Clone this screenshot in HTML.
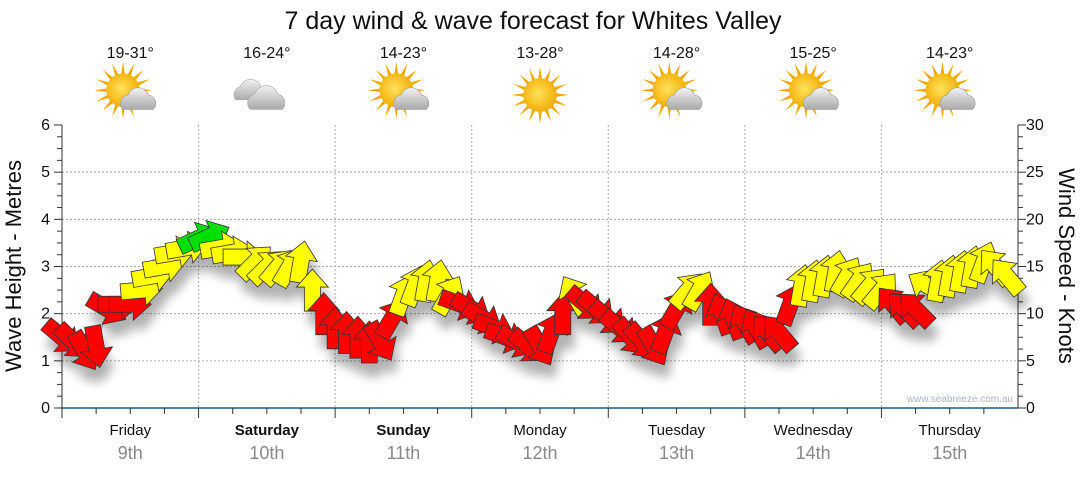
<!DOCTYPE html>
<html><head><meta charset="utf-8"><style>
body{margin:0;background:#fff;}
svg text{font-family:"Liberation Sans","DejaVu Sans",sans-serif;}
</style></head><body>
<svg id="c" width="1080" height="475" viewBox="0 0 1080 475">
<defs>
<radialGradient id="sun" cx="0.45" cy="0.45" r="0.6"><stop offset="0" stop-color="#ffe25a"/><stop offset="1" stop-color="#f2a900"/></radialGradient>
<linearGradient id="cloud" x1="0" y1="0" x2="0" y2="1"><stop offset="0" stop-color="#f2f2f2"/><stop offset="1" stop-color="#a9a9a9"/></linearGradient>
<filter id="sh" x="-50%" y="-50%" width="200%" height="200%"><feGaussianBlur stdDeviation="5"/></filter>
</defs>
<text x="533" y="29" font-size="25" text-anchor="middle" fill="#111">7 day wind &amp; wave forecast for Whites Valley</text>
<g id="grid"></g><g id="axes"></g><g id="shadows" filter="url(#sh)" opacity="0.3"></g><g id="marks"></g><g id="top"></g>
<text x="1013" y="402" font-size="10" text-anchor="end" fill="#aab4c4">www.seabreeze.com.au</text>
<text transform="translate(21,266) rotate(-90)" font-size="22" text-anchor="middle" fill="#111">Wave Height - Metres</text>
<text transform="translate(1059,266) rotate(90)" font-size="22" text-anchor="middle" fill="#111">Wind Speed - Knots</text>
</svg>
<script>
const days=["Friday","Saturday","Sunday","Monday","Tuesday","Wednesday","Thursday"];
const dates=["9th","10th","11th","12th","13th","14th","15th"];
const bold=[false,true,true,false,false,false,false];
const temps=["19-31°","16-24°","14-23°","13-28°","14-28°","15-25°","14-23°"];
const icons=["partly","cloudy","partly","sun","partly","partly","partly"];
const waveTicks=[0,1,2,3,4,5,6];
const windTicks=[0,5,10,15,20,25,30];
// wind every 2 hours, starting Friday 00:00
const windSpeed=[7.5,7,6,6.5,10.5,11,11,12.5,14,15,16.5,17,
18,18.2,17,16.5,16,15.5,15,15,15,15.5,12.5,10,
8.5,8,7.5,7,7,9.5,12,13,13.5,13.5,12,11,
10.5,9.5,8.5,7.5,7,6.5,6.5,8,10,12,11,10.5,
9.5,8.5,7.5,7,6.5,8,10.5,12.5,12.5,11,10,9.5,
9,8.5,8,8,11,13,13.5,14,14.5,14,13.5,13,
12.5,11,10.5,10.5,13,13.5,14,14.5,15,15.5,15,14];
const windDir=[130,135,150,170,120,90,90,85,80,80,80,80,
65,65,80,80,90,45,45,40,30,10,0,0,
0,0,0,0,150,30,20,20,10,10,30,110,
120,120,110,110,120,130,150,20,0,330,130,130,
130,130,140,140,150,20,30,40,30,0,340,340,
330,330,320,320,20,10,10,10,10,30,35,40,
40,320,315,315,300,10,10,10,10,20,320,320];

const NS="http://www.w3.org/2000/svg";
const L=62,R=1018,T=125,B=408;
const dayW=(R-L)/7;
const xT=h=>L+h/24*dayW;
const yW=m=>B-(B-T)*m/6;
const yK=k=>B-(B-T)*k/30;
function el(tag,attrs,parent){const e=document.createElementNS(NS,tag);for(const k in attrs)e.setAttribute(k,attrs[k]);parent.appendChild(e);return e;}
const grid=document.getElementById('grid'),axes=document.getElementById('axes'),marks=document.getElementById('marks'),shadows=document.getElementById('shadows'),top_=document.getElementById('top');

waveTicks.forEach(v=>{
  if(v>0&&v<6){const g=el('line',{x1:L,x2:R,y1:yW(v),y2:yW(v),stroke:'#aaa','stroke-dasharray':'2,2'},grid);
  
  }
  const t=el('text',{x:L-12,y:yW(v)+5,'font-size':16,'text-anchor':'end',fill:'#111'},axes);t.textContent=v;
  
  
});
windTicks.forEach(v=>{
  const t=el('text',{x:R+8,y:yK(v)+5,'font-size':16,fill:'#111'},axes);t.textContent=v;
  
  
});
for(let i=0;i<=24;i++){const y=B-(B-T)*i/24;const len=i%4==0?8:5;
  el('line',{x1:L-len,x2:L,y1:y,y2:y,stroke:'#333'},axes);
  el('line',{x1:R,x2:R+(i%4==0?8:5),y1:y,y2:y,stroke:'#333'},axes);}
el('line',{x1:L,x2:L,y1:T,y2:B,stroke:'#333'},axes);
el('line',{x1:R,x2:R,y1:T,y2:B,stroke:'#333'},axes);
el('line',{x1:L,x2:R,y1:B,y2:B,stroke:'#1f5a85','stroke-width':1.5},axes);
for(let d=0;d<7;d++){
  if(d>0){const g=el('line',{x1:xT(d*24),x2:xT(d*24),y1:T,y2:B,stroke:'#aaa','stroke-dasharray':'2,2'},grid);
  
  }
  for(let q=0;q<4;q++){const x=xT(d*24+q*6);el('line',{x1:x,x2:x,y1:B,y2:B+(q==0?10:6),stroke:'#333'},axes);}
  const cx=xT(d*24+12);
  const t=el('text',{x:cx,y:435,'font-size':15,'text-anchor':'middle',fill:'#111','font-weight':bold[d]?'bold':'normal'},axes);t.textContent=days[d];
  
  
  const t2=el('text',{x:cx,y:459,'font-size':18,'text-anchor':'middle',fill:'#888'},axes);t2.textContent=dates[d];
  
  
  const t3=el('text',{x:cx,y:58,'font-size':16,'text-anchor':'middle',fill:'#111'},top_);t3.textContent=temps[d];
  
  
  const g=el('g',{transform:`translate(${cx},95) scale(1.2)`},top_);
  
  
  const ic=icons[d];
  if(ic!='cloudy'){
    for(let a=0;a<16;a++){const an=a*Math.PI/8;const sx=ic=='sun'?0:-6,sy=ic=='sun'?0:-4;
      el('polygon',{points:`${sx+Math.cos(an-0.12)*13},${sy+Math.sin(an-0.12)*13} ${sx+Math.cos(an)*24},${sy+Math.sin(an)*24} ${sx+Math.cos(an+0.12)*13},${sy+Math.sin(an+0.12)*13}`,fill:'#f5a800'},g);}
    el('circle',{cx:ic=='sun'?0:-6,cy:ic=='sun'?0:-4,r:14,fill:'url(#sun)'},g);
  }
  if(ic=='partly'){
    el('path',{d:'M-6,12 a7,7 0 0 1 4,-12 a9,9 0 0 1 17,0 a7,7 0 0 1 4,12 z',fill:'url(#cloud)',stroke:'#999','stroke-width':0.5},g);
  }
  if(ic=='cloudy'){
    el('path',{d:'M-26,4 a7,7 0 0 1 4,-11 a9,9 0 0 1 17,0 a7,7 0 0 1 2,11 z',fill:'url(#cloud)',stroke:'#aaa','stroke-width':0.5},g);
    el('path',{d:'M-14,12 a8,8 0 0 1 4,-13 a10,10 0 0 1 19,0 a8,8 0 0 1 4,13 z',fill:'url(#cloud)',stroke:'#aaa','stroke-width':0.5},g);
  }
}
// line
let pts=windSpeed.map((s,i)=>`${xT(i*2)},${yK(s)}`).join(' ');
const pl=el('polyline',{points:pts,fill:'none',stroke:'#999','stroke-width':1},marks);


const arrow='M-21,-8 L3,-8 L3,-16 L21,0 L3,16 L3,8 L-21,8 Z';
windSpeed.forEach((s,i)=>{
  const x=xT(i*2),y=yK(s),rot=windDir[i]-90;
  const col=s>=17.8?'#00e000':(s>=11.8?'#ffff00':'#ff0000');
  el('path',{d:arrow,transform:`translate(${x+4},${y+14}) rotate(${rot})`,fill:'#000'},shadows);
  const a=el('path',{d:arrow,transform:`translate(${x},${y}) rotate(${rot})`,fill:col,stroke:'#333','stroke-width':0.8},marks);
  
  
});
</script>
</body></html>
